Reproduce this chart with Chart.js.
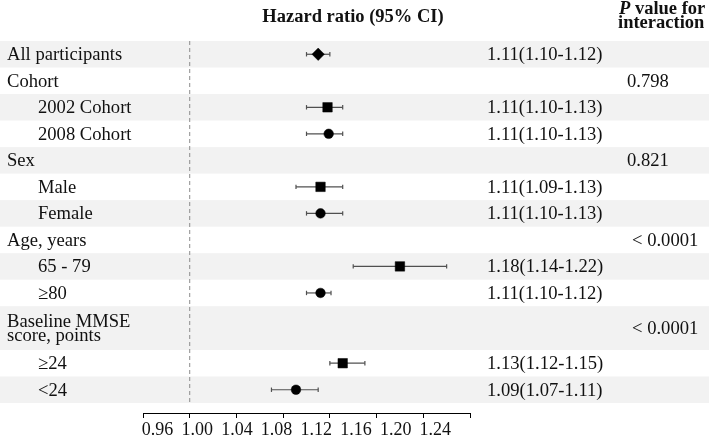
<!DOCTYPE html>
<html><head><meta charset="utf-8">
<script src="https://cdn.jsdelivr.net/npm/chart.js@4.4.1/dist/chart.umd.min.js"></script>
<style>html,body{margin:0;padding:0;background:#fff}canvas{display:block}</style>
</head><body>
<canvas id="c" width="709" height="438"></canvas>
<script>
// ---- data ----
const rowLabels = ['All participants','Cohort','2002 Cohort','2008 Cohort','Sex','Male','Female','Age, years','65 - 79','≥80','Baseline MMSE\nscore, points','≥24','<24'];
const rowIndent = [0,0,1,1,0,1,1,0,1,1,0,1,1];
const hrValues = [1.110,null,1.118,1.119,null,1.112,1.112,null,1.180,1.112,null,1.131,1.091];
const ciLower  = [1.100,null,1.100,1.100,null,1.091,1.100,null,1.140,1.100,null,1.120,1.070];
const ciUpper  = [1.120,null,1.131,1.131,null,1.131,1.131,null,1.220,1.121,null,1.150,1.110];
const markerShapes = ['rectRot',null,'rect','circle',null,'rect','circle',null,'rect','circle',null,'rect','circle'];
const hrTexts = ['1.11(1.10-1.12)','','1.11(1.10-1.13)','1.11(1.10-1.13)','','1.11(1.09-1.13)','1.11(1.10-1.13)','','1.18(1.14-1.22)','1.11(1.10-1.12)','','1.13(1.12-1.15)','1.09(1.07-1.11)'];
const pTexts = ['','0.798','','','0.821','','','< 0.0001','','','< 0.0001','',''];
const xTicks = [0.96,1.00,1.04,1.08,1.12,1.16,1.20,1.24];
const refValue = 1.00;
const headerHR = 'Hazard ratio (95% CI)';
const headerP = ['P',' value for','interaction'];

// ---- layout helpers ----
const FONT = '"Liberation Serif","Times New Roman",serif';
const lineExtra = 0.65;
const rowTop = [], rowBottom = [], rowCenter = [];
let acc = 0;
rowLabels.forEach(l => {
  const n = l.split('\n').length;
  const h = 1 + lineExtra * (n - 1);
  rowTop.push(acc); acc += h; rowBottom.push(acc); rowCenter.push(acc - h / 2);
});
const rowsEnd = acc;
const yMax = rowsEnd + 0.377;

const idx = hrValues.map((v, i) => i).filter(i => hrValues[i] !== null);
const radiusFor = s => s === 'rect' ? 6.7 : (s === 'circle' ? 4.8 : 6.2);

const datasets = [];
datasets.push({
  data: [{x: refValue, y: 0}, {x: refValue, y: rowsEnd}],
  showLine: true, borderColor: '#8c8c8c', borderWidth: 1, borderDash: [4, 3],
  pointRadius: 0, order: 5
});
idx.forEach(i => datasets.push({
  data: [{x: ciLower[i], y: rowCenter[i]}, {x: ciUpper[i], y: rowCenter[i]}],
  showLine: true, borderColor: '#505050', borderWidth: 1.2, pointRadius: 0, order: 4
}));
datasets.push({
  data: idx.flatMap(i => [{x: ciLower[i], y: rowCenter[i]}, {x: ciUpper[i], y: rowCenter[i]}]),
  pointStyle: 'line', rotation: 90, pointRadius: 2.2, borderColor: '#505050', borderWidth: 1.2,
  showLine: false, order: 3
});
datasets.push({
  data: idx.map(i => ({x: hrValues[i], y: rowCenter[i]})),
  pointStyle: idx.map(i => markerShapes[i]),
  pointRadius: idx.map(i => radiusFor(markerShapes[i])),
  backgroundColor: '#000', borderColor: '#000', borderWidth: 0.5,
  showLine: false, order: 1
});

const bandPlugin = {
  id: 'bands',
  beforeDraw(chart) {
    const {ctx} = chart, ys = chart.scales.y;
    ctx.save();
    ctx.fillStyle = '#f2f2f2';
    rowTop.forEach((t, i) => {
      if (i % 2 === 0) {
        const y0 = ys.getPixelForValue(t), y1 = ys.getPixelForValue(rowBottom[i]);
        ctx.fillRect(0, y0, chart.width, y1 - y0);
      }
    });
    ctx.restore();
  }
};

const textPlugin = {
  id: 'texts',
  afterDraw(chart) {
    const {ctx} = chart, ys = chart.scales.y;
    ctx.save();
    ctx.fillStyle = '#111';
    ctx.textBaseline = 'alphabetic';
    ctx.textAlign = 'left';
    ctx.font = '18.6px ' + FONT;
    rowLabels.forEach((l, i) => {
      const c = ys.getPixelForValue(rowCenter[i]);
      const lines = l.split('\n');
      lines.forEach((s, k) => {
        const b = c + 6 + (k - (lines.length - 1) / 2) * 13.5;
        ctx.fillText(s, rowIndent[i] ? 38 : 7, b);
      });
      if (hrTexts[i]) ctx.fillText(hrTexts[i], 487, c + 6);
      if (pTexts[i]) ctx.fillText(pTexts[i], pTexts[i].startsWith('<') ? 632 : 627, c + 6);
    });
    ctx.font = 'bold 18.5px ' + FONT;
    ctx.textAlign = 'center';
    ctx.fillText(headerHR, 353, 22);
    ctx.textAlign = 'left';
    ctx.font = 'italic bold 18.5px ' + FONT;
    ctx.fillText(headerP[0], 619, 14);
    const pw = ctx.measureText(headerP[0]).width;
    ctx.font = 'bold 18.5px ' + FONT;
    ctx.fillText(headerP[1], 619 + pw, 14);
    ctx.fillText(headerP[2], 618, 28);
    ctx.restore();
  }
};

new Chart(document.getElementById('c'), {
  type: 'scatter',
  data: {datasets},
  options: {
    responsive: false, animation: false, events: [],
    layout: {padding: {left: 143, right: 239, top: 41, bottom: 0}},
    plugins: {legend: {display: false}, tooltip: {enabled: false}},
    scales: {
      x: {
        type: 'linear', position: 'bottom', min: xTicks[0], max: xTicks[xTicks.length - 1], weight: 0,
        afterBuildTicks: s => { s.ticks = xTicks.map(v => ({value: v})); },
        afterFit: s => { s.height = 5; },
        grid: {display: true, drawOnChartArea: false, drawTicks: true, tickLength: 5, color: '#000', lineWidth: 1},
        border: {display: true, color: '#000', width: 1},
        ticks: {display: false}
      },
      x2: {
        type: 'linear', position: 'bottom', min: 0.9454, max: 1.2749, weight: 1,
        afterBuildTicks: s => { s.ticks = xTicks.map(v => ({value: v})); },
        afterFit: s => { s.height = 20; },
        grid: {display: false}, border: {display: false},
        ticks: {padding: -7, color: '#111', autoSkip: false, maxRotation: 0,
          font: {family: FONT, size: 18}, callback: v => v.toFixed(2)}
      },
      y: {type: 'linear', display: false, reverse: true, min: 0, max: yMax}
    }
  },
  plugins: [bandPlugin, textPlugin]
});
</script>
</body></html>
